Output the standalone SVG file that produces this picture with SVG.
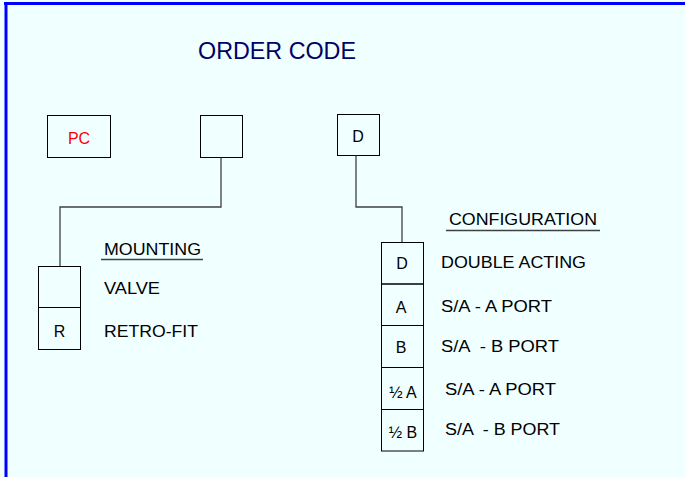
<svg xmlns="http://www.w3.org/2000/svg" width="685" height="477" viewBox="0 0 685 477">
<style>
.t{font-family:"Liberation Sans",Arial,sans-serif;font-size:16px;fill:#000}
.c{text-anchor:middle}
.box{fill:none;stroke:#000;stroke-width:1}
.ln{fill:none;stroke:#404040;stroke-width:1.3}
.ul{stroke:#404040;stroke-width:1.3}
</style>
<rect x="0" y="0" width="685" height="477" fill="#F0FFFF"/>
<line x1="4" y1="3.5" x2="685" y2="3.5" stroke="#0000FF" stroke-width="3"/>
<line x1="6" y1="2" x2="6" y2="477" stroke="#0000FF" stroke-width="3"/>
<text id="title" x="198" y="59" style="font-family:'Liberation Sans',Arial,sans-serif;font-size:23px;fill:#000066" textLength="158" lengthAdjust="spacingAndGlyphs">ORDER CODE</text>
<g id="pc"><rect class="box" x="47.5" y="115.5" width="63" height="42"/><text class="t c" x="79" y="144" style="fill:#FF0000">PC</text></g>
<g id="blank"><rect class="box" x="200.5" y="115.5" width="42" height="42"/></g>
<g id="dtop"><rect class="box" x="337.5" y="114.5" width="42" height="41"/><text class="t c" x="358" y="142">D</text></g>
<g id="connectors">
<polyline class="ln" points="221,157.5 221,207 60,207 60,266"/>
<polyline class="ln" points="356,155.5 356,207 402,207 402,242.5"/>
</g>
<g id="mounting">
<text class="t" x="104" y="255" textLength="97" lengthAdjust="spacingAndGlyphs">MOUNTING</text>
<line class="ul" x1="101" y1="259.5" x2="203" y2="259.5"/>
<rect class="box" x="38.5" y="266.5" width="42" height="41"/>
<rect class="box" x="38.5" y="307.5" width="42" height="42"/>
<text class="t c" x="59.5" y="337">R</text>
<text class="t" x="104" y="294" textLength="56" lengthAdjust="spacingAndGlyphs">VALVE</text>
<text class="t" x="104" y="337" textLength="94" lengthAdjust="spacingAndGlyphs">RETRO-FIT</text>
</g>
<g id="configuration">
<text class="t" x="449" y="225" textLength="148" lengthAdjust="spacingAndGlyphs">CONFIGURATION</text>
<line class="ul" x1="446" y1="230.5" x2="600" y2="230.5"/>
<rect class="box" x="381.5" y="242.5" width="42" height="41.5"/>
<rect class="box" x="381.5" y="284" width="42" height="41.5"/>
<rect class="box" x="381.5" y="325.5" width="42" height="42"/>
<rect class="box" x="381.5" y="367.5" width="42" height="42"/>
<rect class="box" x="381.5" y="409.5" width="42" height="41.5"/>
<text class="t c" x="402" y="269">D</text>
<text class="t c" x="401" y="313">A</text>
<text class="t c" x="401" y="353">B</text>
<text class="t c" x="403" y="397.5">½ A</text>
<text class="t c" x="403" y="438">½ B</text>
<text class="t" x="441" y="268" textLength="145" lengthAdjust="spacingAndGlyphs">DOUBLE ACTING</text>
<text class="t" x="441" y="312" textLength="111" lengthAdjust="spacingAndGlyphs">S/A - A PORT</text>
<text class="t" x="441" y="352" textLength="118" lengthAdjust="spacingAndGlyphs" xml:space="preserve">S/A  - B PORT</text>
<text class="t" x="445" y="395" textLength="111" lengthAdjust="spacingAndGlyphs">S/A - A PORT</text>
<text class="t" x="445" y="435" textLength="115" lengthAdjust="spacingAndGlyphs" xml:space="preserve">S/A  - B PORT</text>
</g>
</svg>
